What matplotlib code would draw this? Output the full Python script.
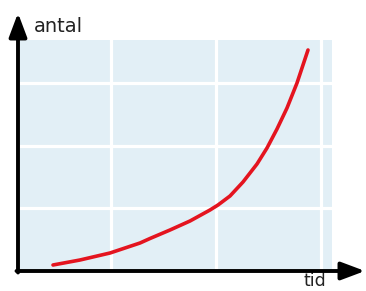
import matplotlib
matplotlib.use('Agg')
import matplotlib.pyplot as plt

# kurvens punkter (tid, antal)
tid = [33, 60, 90, 120, 130, 150, 170, 190, 198, 210, 223, 237,
       247, 257, 267, 277, 283, 288]
antal = [5, 10, 17, 27, 31.5, 40, 49, 60, 65, 74, 88, 106,
         122, 141, 162, 187, 205, 220]

# gitterlinjer
gitter_x = [91, 196, 301]
gitter_y = [62, 124, 187]

blaa = '#e2eff6'
roed = '#e4141f'

fig = plt.figure(figsize=(3.66, 2.91), dpi=100)
ax = fig.add_axes([20 / 366, 21 / 291, 312 / 366, 230 / 291])
ax.set_xlim(0, 312)
ax.set_ylim(0, 230)
ax.set_facecolor(blaa)
for s in ax.spines.values():
    s.set_visible(False)
ax.set_xticks([])
ax.set_yticks([])

for gx in gitter_x:
    ax.axvline(gx, color='white', lw=2.3, zorder=1)
for gy in gitter_y:
    ax.axhline(gy, color='white', lw=2.3, zorder=1)

ax.plot(tid, antal, color=roed, lw=2.6, solid_capstyle='round',
        solid_joinstyle='round', zorder=3)

# akser med pile
pil = dict(arrowstyle='-|>,head_length=0.72,head_width=0.27', lw=2.8,
           color='black', shrinkA=0, shrinkB=0, mutation_scale=20)
ax.annotate('', xy=(-2, 257), xytext=(-2, -2.5), arrowprops=pil,
            annotation_clip=False, zorder=5)
ax.annotate('', xy=(345, -1), xytext=(-3.5, -1), arrowprops=pil,
            annotation_clip=False, zorder=5)

ax.text(14, 238, 'antal', fontsize=14, color='#222222', va='baseline',
        ha='left', clip_on=False)
ax.text(284, -20, 'tid', fontsize=12.5, color='#222222', va='bottom',
        ha='left', clip_on=False)

fig.savefig('out.png', dpi=100)
